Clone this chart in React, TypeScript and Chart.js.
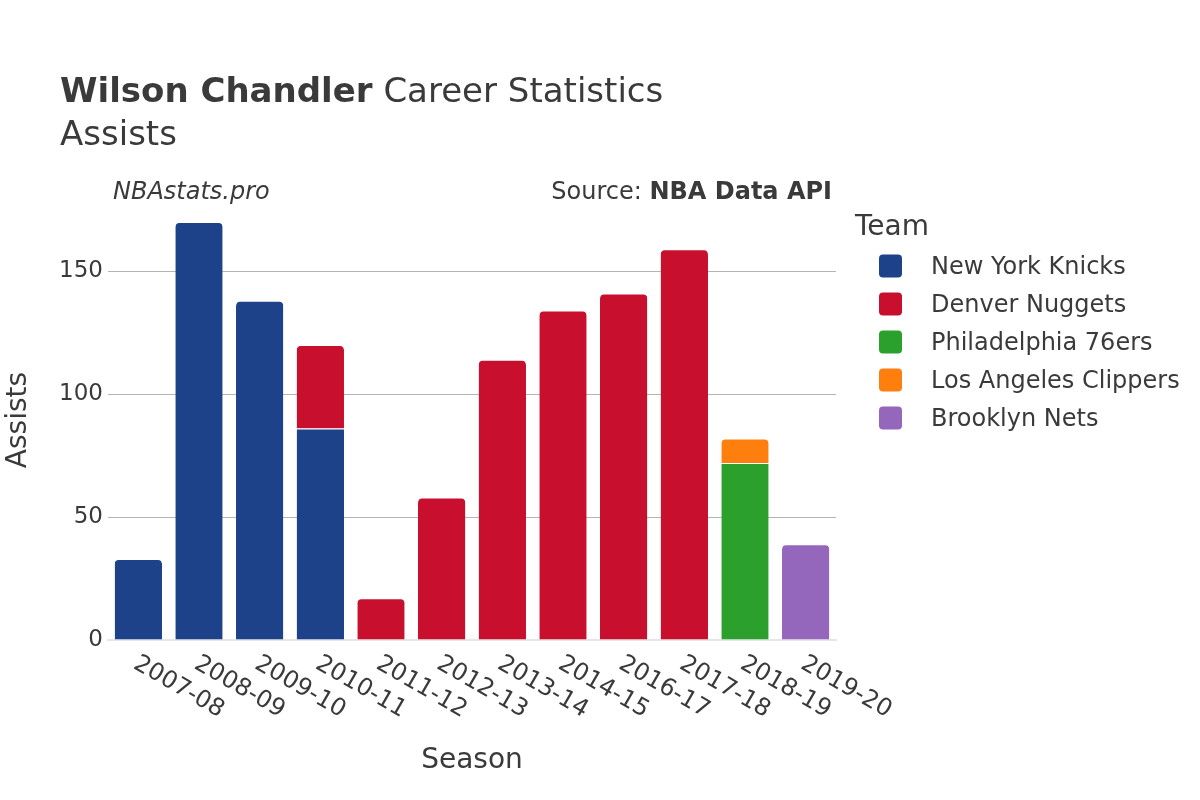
import React, { useEffect, useRef } from "react";
import { Chart, registerables } from "chart.js";

Chart.register(...registerables);

const seasons = ["2007-08", "2008-09", "2009-10", "2010-11", "2011-12", "2012-13", "2013-14", "2014-15", "2016-17", "2017-18", "2018-19", "2019-20"];
const teams = ["New York Knicks", "Denver Nuggets", "Philadelphia 76ers", "Los Angeles Clippers", "Brooklyn Nets"];
const teamColors = ["#1d428a", "#c8102e", "#2ca02c", "#ff7f0e", "#9467bd"];
const knicks = [33, 170, 138, 86, null, null, null, null, null, null, null, null];
const nuggets = [null, null, null, 34, 17, 58, 114, 134, 141, 159, null, null];
const sixers = [null, null, null, null, null, null, null, null, null, null, 72, null];
const clippers = [null, null, null, null, null, null, null, null, null, null, 10, null];
const nets = [null, null, null, null, null, null, null, null, null, null, null, 39];
const yTicks = [0, 50, 100, 150];
const yMax = 179;

const seriesList = [knicks, nuggets, sixers, clippers, nets];
const FONT = "'DejaVu Sans', sans-serif";
const TEXT = "#3a3a3a";

function isTop(dsIndex: number, i: number) {
  for (let k = dsIndex + 1; k < seriesList.length; k++) {
    if (seriesList[k][i] != null) return false;
  }
  return true;
}

const decorPlugin = {
  id: "decor",
  afterDraw(chart: any) {
    const ctx = chart.ctx;
    const area = chart.chartArea;
    const xs = chart.scales.x;
    ctx.save();
    // Title
    ctx.fillStyle = TEXT;
    ctx.textBaseline = "alphabetic";
    ctx.textAlign = "left";
    ctx.font = `bold 34px ${FONT}`;
    const bold = "Wilson Chandler";
    ctx.fillText(bold, 60, 102);
    const w = ctx.measureText(bold).width;
    ctx.font = `34px ${FONT}`;
    ctx.fillText(" Career Statistics", 60 + w, 102);
    ctx.fillText("Assists", 60, 145);

    // annotations
    ctx.textBaseline = "middle";
    ctx.font = `italic 24px ${FONT}`;
    ctx.fillText("NBAstats.pro", 113, 193);
    ctx.textAlign = "right";
    ctx.font = `bold 24px ${FONT}`;
    const src = "NBA Data API";
    ctx.fillText(src, 832, 193);
    const sw = ctx.measureText(src).width;
    ctx.font = `24px ${FONT}`;
    ctx.fillText("Source: ", 832 - sw, 193);

    // axis titles
    ctx.textAlign = "center";
    ctx.font = `28px ${FONT}`;
    ctx.fillText("Season", (area.left + area.right) / 2, 761);
    ctx.save();
    ctx.translate(19, (area.top + area.bottom) / 2);
    ctx.rotate(-Math.PI / 2);
    ctx.fillText("Assists", 0, 0);
    ctx.restore();

    // x tick labels, rotated 30deg clockwise
    ctx.font = `24px ${FONT}`;
    ctx.textAlign = "left";
    ctx.textBaseline = "middle";
    seasons.forEach((s, i) => {
      const x = xs.getPixelForValue(i);
      ctx.save();
      ctx.translate(x - 3, 662);
      ctx.rotate(Math.PI / 6);
      ctx.fillText(s, 0, 0);
      ctx.restore();
    });

    // legend
    ctx.textAlign = "left";
    ctx.font = `28px ${FONT}`;
    ctx.fillText("Team", 855, 228);
    ctx.font = `24px ${FONT}`;
    teams.forEach((t, i) => {
      const cy = 266 + i * 38;
      ctx.fillStyle = teamColors[i];
      ctx.beginPath();
      (ctx as any).roundRect(879, cy - 11.5, 23, 23, 4);
      ctx.fill();
      ctx.fillStyle = TEXT;
      ctx.fillText(t, 931, cy + 2);
    });
    ctx.restore();
  },
};

export default function App() {
  const ref = useRef<HTMLCanvasElement>(null);
  useEffect(() => {
    document.body.style.margin = "0";
    const datasets = seriesList.map((data, d) => ({
      label: teams[d],
      data,
      backgroundColor: teamColors[d],
      borderColor: "#ffffff",
      borderWidth: { top: 1, left: 0, right: 0, bottom: 0 },
      borderSkipped: "start",
      borderRadius: (c: any) => (isTop(d, c.dataIndex) ? { topLeft: 5, topRight: 5, bottomLeft: 0, bottomRight: 0 } : 0),
      categoryPercentage: 1,
      barPercentage: 0.78,
    }));
    const chart = new Chart(ref.current!, {
      type: "bar",
      data: { labels: seasons, datasets: datasets as any },
      options: {
        animation: false,
        responsive: false,
        maintainAspectRatio: false,
        layout: { padding: { left: 0, right: 364, top: 200, bottom: 160 } },
        plugins: { legend: { display: false }, tooltip: { enabled: false }, title: { display: false } },
        scales: {
          x: {
            stacked: true,
            grid: { display: false, drawTicks: false },
            border: { display: true, color: "#e6e6e6", width: 2 },
            ticks: { display: false },
            afterFit: (s: any) => { s.height = 0; },
          },
          y: {
            stacked: true,
            min: 0,
            max: yMax,
            afterBuildTicks: (s: any) => { s.ticks = yTicks.map((v) => ({ value: v })); },
            afterFit: (s: any) => { s.width = 108; },
            grid: {
              color: (c: any) => (c.tick && c.tick.value === 0 ? "rgba(0,0,0,0)" : "#b4b4b4"),
              lineWidth: 1,
              drawTicks: false,
            },
            border: { display: false },
            ticks: { font: { family: FONT, size: 23 }, color: TEXT, padding: 5 },
          },
        },
      },
      plugins: [decorPlugin],
    });
    return () => chart.destroy();
  }, []);
  return (
    <div style={{ position: "absolute", left: 0, top: 0, width: 1200, height: 800, background: "#fff" }}>
      <canvas ref={ref} width={1200} height={800} style={{ width: 1200, height: 800 }} />
    </div>
  );
}
